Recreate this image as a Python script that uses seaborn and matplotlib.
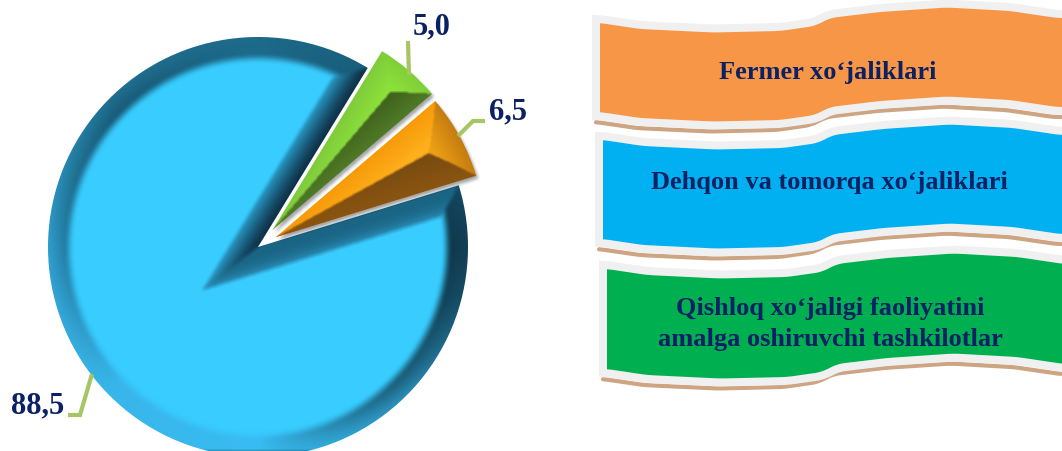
import numpy as np
import matplotlib
matplotlib.use("Agg")
import matplotlib.pyplot as plt
import seaborn as sns

# pie values
values = [5.0, 6.5, 88.5]
pie_colors = ["#7fcf3a", "#ff9d0a", "#38ccff"]

# banners
banner_labels = ["Fermer xo‘jaliklari", "Dehqon va tomorqa xo‘jaliklari",
                 "Qishloq xo‘jaligi faoliyatini\namalga oshiruvchi tashkilotlar"]
banner_colors = ["#f79646", "#00b0f0", "#00b050"]
text_color = "#0b2163"
leader_color = "#a5c663"

sns.set_theme(style="white")
plt.rcParams['font.family'] = ['Liberation Serif', 'DejaVu Serif']

fig = plt.figure(figsize=(10.62, 4.52), dpi=100)
ax = fig.add_axes([0, 0, 1, 1])
H = 452


def hex_rgb(c):
    return np.array(matplotlib.colors.to_rgb(c))


def mix(a, b, t):
    return hex_rgb(a) * (1 - t[..., None]) + hex_rgb(b) * t[..., None]


def blur(img, n=2, passes=1):
    for _ in range(passes):
        for axis in (0, 1):
            img = sum(np.roll(img, i, axis=axis) for i in range(-n, n + 1)) / (2 * n + 1)
    return img


# explode is in data units here, and the data units are pixels
wedges, _ = ax.pie(values, colors=pie_colors, startangle=58.5, counterclock=False,
                   explode=[22, 20, 0], center=(258, H - 248), radius=210, frame=True)
ax.set_xlim(0, 1062)
ax.set_ylim(0, H)
ax.set_aspect("equal")
ax.axis("off")

xx, yy = np.meshgrid(np.arange(1062) + 0.5, np.arange(H) + 0.5)


def distances(w):
    px, py = xx - w.center[0], yy - w.center[1]
    a1, a2 = np.radians(w.theta1), np.radians(w.theta2)
    d1 = np.cos(a1) * py - np.sin(a1) * px
    d2 = np.sin(a2) * px - np.cos(a2) * py
    d_arc = w.r - np.hypot(px, py)
    ang = np.degrees(np.arctan2(py, px)) % 360
    return d1, d2, d_arc, ang


def shade_small(w, c_up, c_arc, c_low):
    # three facets meeting in one point, no flat face
    d1, d2, d_arc, _ = distances(w)
    img = np.zeros(xx.shape + (3,))
    top = np.minimum(np.minimum(d1, d2), d_arc)
    depth = np.clip(top / 30, 0, 1)
    m_low, m_up = top == d1, top == d2
    m_arc = top == d_arc
    img[m_low] = mix(c_low[0], c_low[1], depth)[m_low]
    img[m_up] = mix(c_up[0], c_up[1], depth)[m_up]
    img[m_arc] = mix(c_arc[0], c_arc[1], depth)[m_arc]
    return blur(img, 1)


def shade_big(w, band=25):
    d1, d2, d_arc, ang = distances(w)
    edge = np.maximum(d1, d2)
    face = hex_rgb("#38ccff")
    img = np.zeros(xx.shape + (3,)) + face
    t1 = np.clip(d1 / band, 0, 1)
    t2 = np.clip(d2 / band, 0, 1)
    up = (edge < band) & (d1 >= d2)
    low = (edge < band) & (d2 > d1)
    img[up] = mix("#0f3046", "#2a9cc8", t1 ** 1.3)[up]
    img[low] = mix("#1a6484", "#2a8fb8", t2 ** 3)[low]

    # rim: outer colour and how much it darkens inwards, both go round with the angle
    stops = [0, 45, 90, 135, 180, 225, 270, 315, 345, 360]
    rim = ["#123e54", "#185a78", "#1d6a8a", "#1f7092", "#2f9fcf",
           "#38b6ea", "#38bcf2", "#2a8fb8", "#164e68", "#123e54"]
    dark = [0.9, 0.95, 1.0, 0.8, 0.78, 1.0, 1.0, 0.65, 0.85, 0.9]
    rgb = np.array([hex_rgb(c) for c in rim])
    ring = np.stack([np.interp(ang, stops, rgb[:, i]) for i in range(3)], axis=-1)
    k = np.interp(ang, stops, dark)
    t = np.clip(d_arc / band, 0, 1)
    a = np.clip(t / 0.7, 0, 1)[..., None]
    b = np.clip((t - 0.7) / 0.3, 0, 1)[..., None]
    shaded = ring * (1 - a) + ring * k[..., None] * a
    shaded = shaded * (1 - b) + face * b
    arc = (d_arc < band) & (d_arc < edge)
    img[arc] = shaded[arc]
    return blur(img, 2)


images = [
    shade_small(wedges[0], ("#7fcb3c", "#8fe53a"), ("#7fcf38", "#8fe53a"), ("#4f7a26", "#3e5f1c")),
    shade_small(wedges[1], ("#f79a08", "#ffb01e"), ("#c47c10", "#eda015"), ("#8a5510", "#7a4c10")),
    shade_big(wedges[2]),
]

# soft shadow below the two cut slices
inside = np.zeros(xx.shape)
for w in wedges[:2]:
    d1, d2, d_arc, _ = distances(w)
    inside[(d1 > 0) & (d2 > 0) & (d_arc > 0)] = 1
shadow = blur(np.roll(np.roll(inside, -3, axis=0), 2, axis=1), 2)
sh = np.zeros(xx.shape + (4,))
sh[..., 3] = 0.35 * shadow
ax.imshow(sh, origin="lower", extent=(0, 1062, 0, H), zorder=3.5, aspect="equal")

for w, img, z in zip(wedges, images, [4, 4, 3]):
    w.set_zorder(2)
    im = ax.imshow(img, origin="lower", extent=(0, 1062, 0, H), zorder=z, aspect="equal")
    im.set_clip_path(w)
ax.set_xlim(0, 1062)
ax.set_ylim(0, H)

# leader lines and value labels
leaders = [[(408, 42), (409, 76)], [(485, 122), (473, 122), (458, 137)],
           [(68, 416), (80, 416), (92, 375)]]
label_pos = [(432, 27), (508, 112), (38, 406)]
for v, pts, pos in zip(values, leaders, label_pos):
    lx = [p[0] for p in pts]
    ly = [H - p[1] for p in pts]
    ax.plot(lx, ly, color=leader_color, lw=3, solid_capstyle="butt", solid_joinstyle="miter", zorder=5)
    ax.text(pos[0], H - pos[1], f"{v:.1f}".replace(".", ","), ha="center", va="center",
            fontsize=22, fontweight="bold", color=text_color, zorder=5)


# ribbon outline, offset from the left end of each edge
wave_x = np.array([0, 40, 113, 180, 215, 230, 280, 347, 410, 457])
wave_dy = np.array([0, 6, 9.5, 8, 3, -5, -11, -15.5, -12, -5])

banner_top = [24, 141, 270]
banner_bot = [113, 240, 370]
banner_left = [600, 603, 607]
banner_text_y = [72, 182, 324]
banner_text_x = [827.5, 829, 830.5]


def wave(x0, y0, grid):
    y = np.interp(grid, x0 + wave_x, y0 + wave_dy)
    pad = np.pad(y, 7, mode="edge")
    return np.convolve(pad, np.ones(15) / 15, mode="valid")


for i in range(3):
    x0 = banner_left[i]
    grid = np.arange(x0, 1066, 1.0)
    top = wave(x0, banner_top[i], grid)
    bot = wave(x0, banner_bot[i], grid)
    # brown edge under the ribbon, then pale border, then colour
    ax.plot(grid - 4, H - (bot + 10), color="#cda582", lw=3, zorder=6 + i)
    poly_x = np.r_[grid, grid[::-1]]
    poly_y = H - np.r_[top, bot[::-1]]
    ax.fill(poly_x, poly_y, facecolor="#f0f0f0", edgecolor="#f0f0f0", lw=11.5, joinstyle="miter", zorder=6 + i)
    ax.fill(poly_x, poly_y, facecolor=banner_colors[i], edgecolor="none", zorder=6 + i)
    ax.text(banner_text_x[i], H - banner_text_y[i], banner_labels[i], ha="center", va="center",
            fontsize=19, fontweight="bold", color=text_color, linespacing=1.42, zorder=10)

ax.set_xlim(0, 1062)
ax.set_ylim(0, H)
fig.savefig("out.png", dpi=100)
